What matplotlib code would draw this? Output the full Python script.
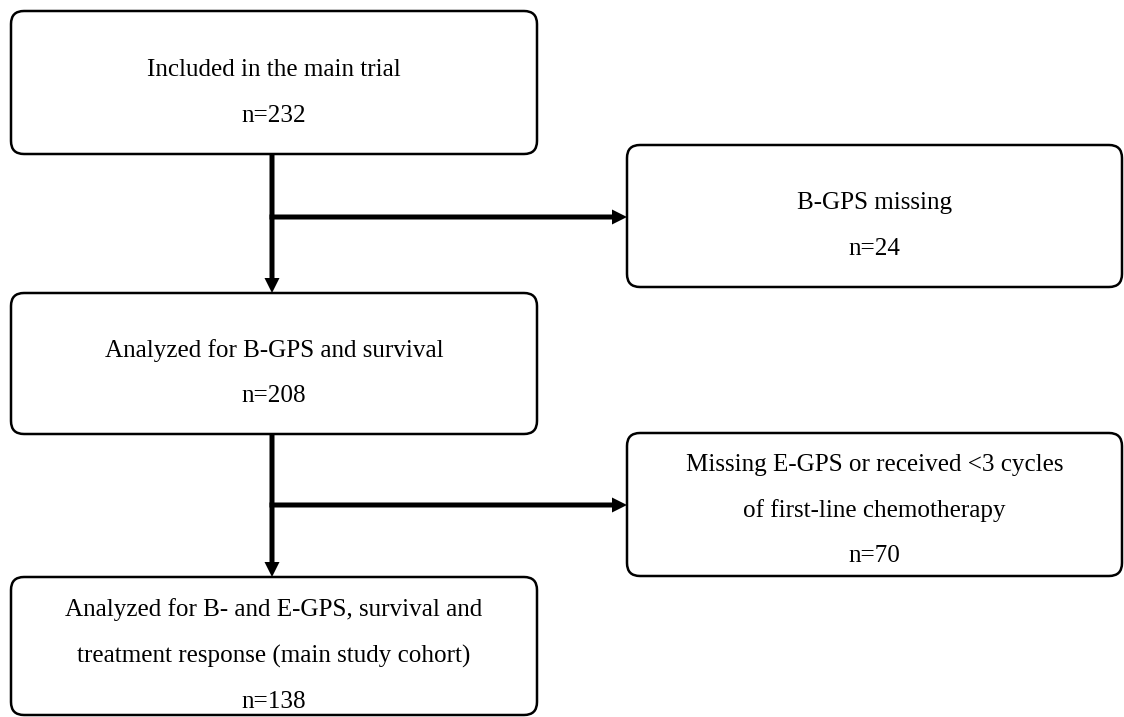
import matplotlib
matplotlib.use('Agg')
import matplotlib.pyplot as plt
from matplotlib.patches import FancyBboxPatch

# box texts (main flow on the left, exclusions on the right)
main_labels = [
    ['Included in the main trial', 'n=232'],
    ['Analyzed for B-GPS and survival', 'n=208'],
    ['Analyzed for B- and E-GPS, survival and',
     'treatment response (main study cohort)', 'n=138'],
]
excl_labels = [
    ['B-GPS missing', 'n=24'],
    ['Missing E-GPS or received <3 cycles',
     'of first-line chemotherapy', 'n=70'],
]

W, H = 1124, 717
fig = plt.figure(figsize=(W / 100, H / 100), dpi=100)
ax = fig.add_axes([0, 0, 1, 1])
ax.set_xlim(0, W)
ax.set_ylim(H, 0)
ax.axis('off')

FONT = 'Liberation Serif'
FS = 18.1
LINE = 46


def box(x0, y0, x1, y1, lines, shift=10):
    p = FancyBboxPatch((x0, y0), x1 - x0, y1 - y0,
                       boxstyle='round,pad=0,rounding_size=13',
                       fc='white', ec='black', lw=1.8)
    ax.add_patch(p)
    cx = (x0 + x1) / 2
    cy = (y0 + y1) / 2 + shift
    n = len(lines)
    for i, t in enumerate(lines):
        ax.text(cx, cy + (i - (n - 1) / 2) * LINE, t, ha='center', va='center',
                family=FONT, fontsize=FS, color='black')


def arrow(x, y, dx, dy):
    ax.arrow(x, y, dx, dy, width=5, head_width=15, head_length=15,
             length_includes_head=True, fc='black', ec='none')


# left column
box(11, 11, 537, 154, main_labels[0])
box(11, 293, 537, 434, main_labels[1])
box(11, 577, 537, 715, main_labels[2], shift=10)

# right column
box(627, 145, 1122, 287, excl_labels[0])
box(627, 433, 1122, 576, excl_labels[1], shift=6)

# connectors
xc = 272
arrow(xc, 154, 0, 139)
arrow(xc - 2.5, 217, 627 - xc + 2.5, 0)
arrow(xc, 434, 0, 143)
arrow(xc - 2.5, 505, 627 - xc + 2.5, 0)

fig.savefig('out.png', dpi=100)
